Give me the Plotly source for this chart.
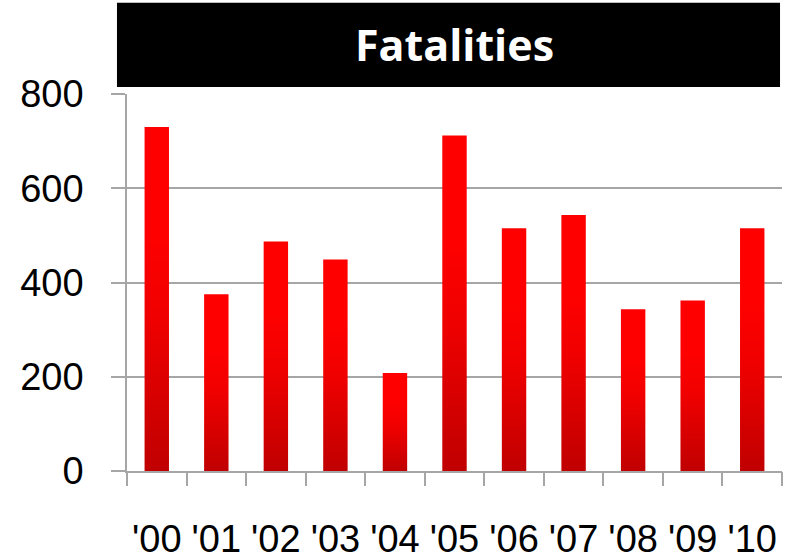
import plotly.graph_objects as go

years = ["'00", "'01", "'02", "'03", "'04", "'05", "'06", "'07", "'08", "'09", "'10"]
fatalities = [730, 375, 487, 449, 208, 712, 515, 543, 343, 362, 515]
y_ticks = [0, 200, 400, 600, 800]

BAR_W = 0.41
GRID = "#a6a6a6"
FONT = "Liberation Sans"

fig = go.Figure()
for i, v in enumerate(fatalities):
    x0, x1 = i - BAR_W / 2, i + BAR_W / 2
    fig.add_trace(go.Scatter(
        x=[x0, x0, x1, x1, x0], y=[0, v, v, 0, 0],
        mode="lines", line=dict(width=0), fill="toself",
        fillgradient=dict(type="vertical",
                          colorscale=[[0, "#c00000"], [0.45, "#f00000"], [0.7, "#ff0000"], [1, "#ff0000"]]),
        hoverinfo="skip", showlegend=False,
    ))

fig.update_layout(
    width=787, height=560,
    margin=dict(l=127, r=5, t=94, b=89, autoexpand=False),
    plot_bgcolor="white", paper_bgcolor="white",
    xaxis=dict(range=[-0.5, 10.5], tickmode="array", tickvals=list(range(len(years))),
               ticktext=years, ticks="", showgrid=False, zeroline=False, automargin=False,
               showline=True, linecolor=GRID, linewidth=1.5,
               tickfont=dict(family=FONT, size=38, color="#000"), ticklabelstandoff=34),
    xaxis2=dict(overlaying="x", range=[-0.5, 10.5], tickmode="array",
                tickvals=[i - 0.5 for i in range(len(years) + 1)], showticklabels=False,
                ticks="outside", ticklen=14, tickcolor=GRID, tickwidth=1.5, automargin=False,
                showgrid=False, zeroline=False, side="bottom", anchor="y"),
    yaxis=dict(range=[0, 800], tickmode="array", tickvals=y_ticks, automargin=False,
               showgrid=True, gridcolor=GRID, gridwidth=1.5, zeroline=False,
               showline=True, linecolor=GRID, linewidth=1.5,
               ticks="outside", ticklen=14, tickcolor=GRID, tickwidth=1.5,
               tickfont=dict(family=FONT, size=38, color="#000"), ticklabelstandoff=20),
    shapes=[dict(type="rect", xref="paper", yref="paper",
                 x0=-0.0153, x1=0.997, y0=1.0186, y1=1.242,
                 fillcolor="black", line=dict(width=0), layer="above")],
    annotations=[dict(text="<b>Fatalities</b>", xref="paper", yref="paper",
                      x=0.5, y=1.13, showarrow=False, xanchor="center", yanchor="middle",
                      font=dict(family="Open Sans", size=43, color="white"))],
)
# empty trace on xaxis2 so the boundary-tick axis is rendered
fig.add_trace(go.Scatter(x=[None], y=[None], xaxis="x2", showlegend=False, hoverinfo="skip"))

fig.write_html("out.html", config={"displayModeBar": False},
               post_script="document.body.style.margin='0';")
